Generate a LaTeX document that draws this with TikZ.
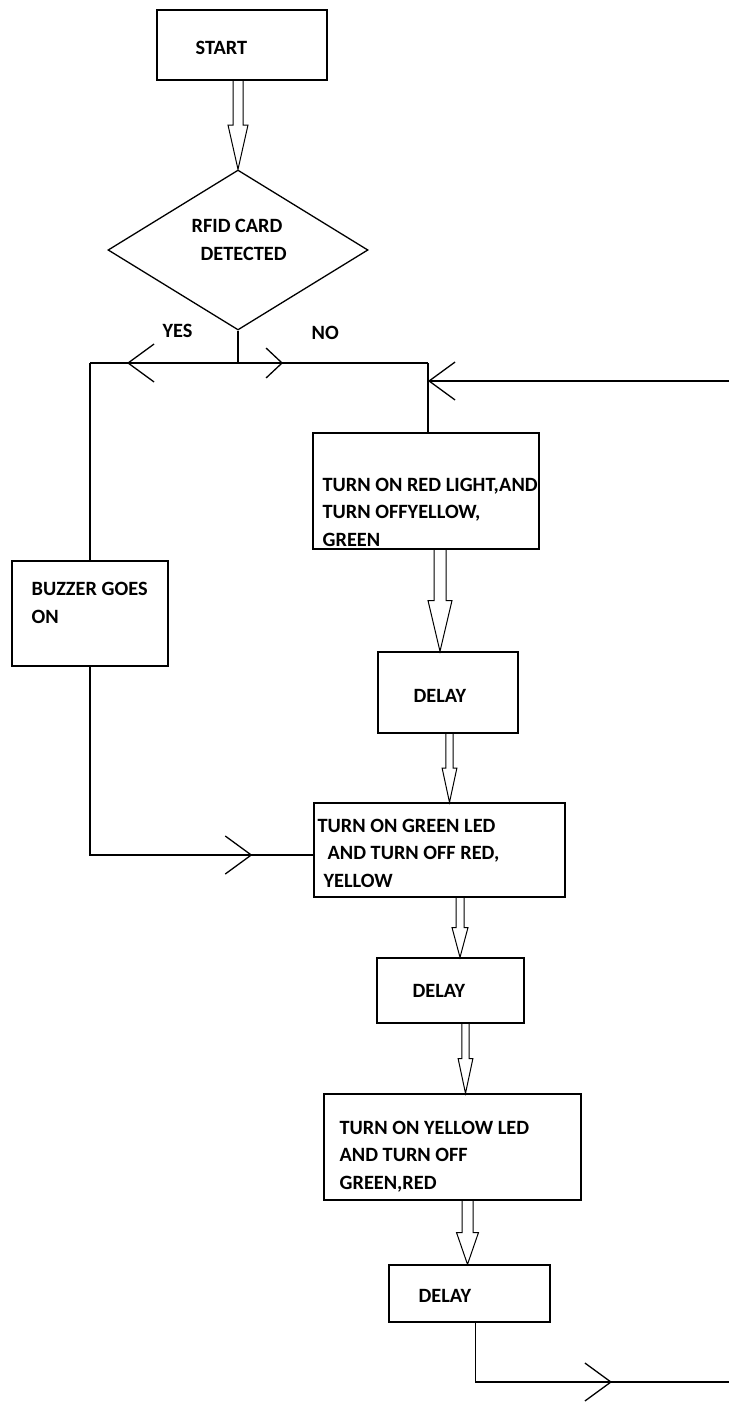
\documentclass[tikz,border=0pt]{standalone}
\usepackage{fontspec}
\setmainfont{Carlito}
\usetikzlibrary{arrows.meta}
\usetikzlibrary{calc}
\usetikzlibrary{shapes.geometric}
\usetikzlibrary{decorations.markings}

\tikzset{
    chev/.tip={Straight Barb[length=26pt,width=38pt]},
    chevs/.tip={Straight Barb[length=16pt,width=30pt]}
}

% hollow block arrow: x, from node, to node, half shaft width
\newcommand{\bigarrow}[4]{%
    \coordinate (ba-x) at (#1,0);
    \coordinate (ba-s) at (ba-x |- #2.south);
    \coordinate (ba-e) at (ba-x |- #3.north);
    \coordinate (ba-m) at ($(ba-s)!0.5!(ba-e)$);
    \draw [hollow] ($(ba-s)+(-#4,0)$) -- ($(ba-m)+(-#4,0)$) -- ($(ba-m)+(-2*#4,0)$)
        -- (ba-e) -- ($(ba-m)+(2*#4,0)$) -- ($(ba-m)+(#4,0)$) -- ($(ba-s)+(#4,0)$);
}

\begin{document}
\begin{tikzpicture} [
    x=1pt, y=-1pt,
    line width=1.3pt,
    box/.style={draw, rectangle, inner sep=0pt},
    txt/.style={
        font=\fontsize{20.3}{27.5}\selectfont\bfseries,
        inner sep=0pt, anchor=base west, align=left
    },
    hollow/.style={line width=1pt},
    midarrow/.style={postaction={decorate},
        decoration={markings, mark=at position #1 with {\arrow{chev}}}},
    midarrows/.style={postaction={decorate},
        decoration={markings, mark=at position #1 with {\arrow{chevs}}}}
]

\useasboundingbox (0,0) rectangle (729,1405);

% boxes
\node [box, minimum width=170pt, minimum height=70pt] (start) at (242,45) {};
\node [diamond, draw, inner sep=0pt, minimum width=260pt, minimum height=160pt]
    (rfid) at (238,250) {};
\node [box, minimum width=156pt, minimum height=105pt] (buzzer) at (90,613.5) {};
\node [box, minimum width=226pt, minimum height=116pt] (redon) at (426,491) {};
\node [box, minimum width=140pt, minimum height=81pt] (delay1) at (448,692.5) {};
\node [box, minimum width=251pt, minimum height=94pt] (greenon) at (439.5,850) {};
\node [box, minimum width=147pt, minimum height=65pt] (delay2) at (450.5,990.5) {};
\node [box, minimum width=257pt, minimum height=106pt] (yellowon) at (452.5,1147) {};
\node [box, minimum width=161pt, minimum height=57pt] (delay3) at (469.5,1293.5) {};

% texts (base = last line)
\node [txt] (t-start) at (195,55) {START};
\node [txt] (t-rfid) at (191,260) {RFID CARD\\\hspace*{9pt}DETECTED};
\node [txt] (t-yes) at (162,337) {YES};
\node [txt] (t-no) at (311,339) {NO};
\node [txt] (t-buzzer) at (31,623) {BUZZER GOES\\ON};
\node [txt] (t-red) at (322,546) {TURN ON RED LIGHT,AND\\TURN OFFYELLOW,\\GREEN};
\node [txt] (t-delay1) at (413,702) {DELAY};
\node [txt] (t-green) at (317,887)
    {TURN ON GREEN LED\\\hspace*{10pt}AND TURN OFF RED,\\\hspace*{6pt}YELLOW};
\node [txt] (t-delay2) at (412,997) {DELAY};
\node [txt] (t-yellow) at (339,1189) {TURN ON YELLOW LED\\AND TURN OFF\\GREEN,RED};
\node [txt] (t-delay3) at (418,1302) {DELAY};

% junctions
\coordinate (split) at (238,363);
\coordinate (yesc) at (90,363);
\coordinate (noc) at (428,363);
\coordinate (loopin) at (428,381);
\coordinate (loopfrom) at (729,381);
\coordinate (endc) at (729,1382);

% block arrows
\bigarrow{238}{start}{rfid}{5}
\bigarrow{440}{redon}{delay1}{6}
\bigarrow{449.5}{delay1}{greenon}{3.7}
\bigarrow{460}{greenon}{delay2}{4}
\bigarrow{465.5}{delay2}{yellowon}{3.7}
\bigarrow{467.5}{yellowon}{delay3}{5.5}

% lines
\draw (rfid.south) -- (split);
\draw [midarrow=111pt] (split) -- (yesc);
\draw (yesc) -- (buzzer.north);
\draw [midarrows=45pt] (split) -- (noc);
\draw (noc) -- (noc |- redon.north);
\draw [-chev] (loopfrom) -- (loopin);
\draw [midarrow=-61pt] (buzzer.south) |- ([yshift=-5pt]greenon.west);
\draw [midarrow=-117pt] ([xshift=6pt]delay3.south) |- (endc);

\end{tikzpicture}
\end{document}
